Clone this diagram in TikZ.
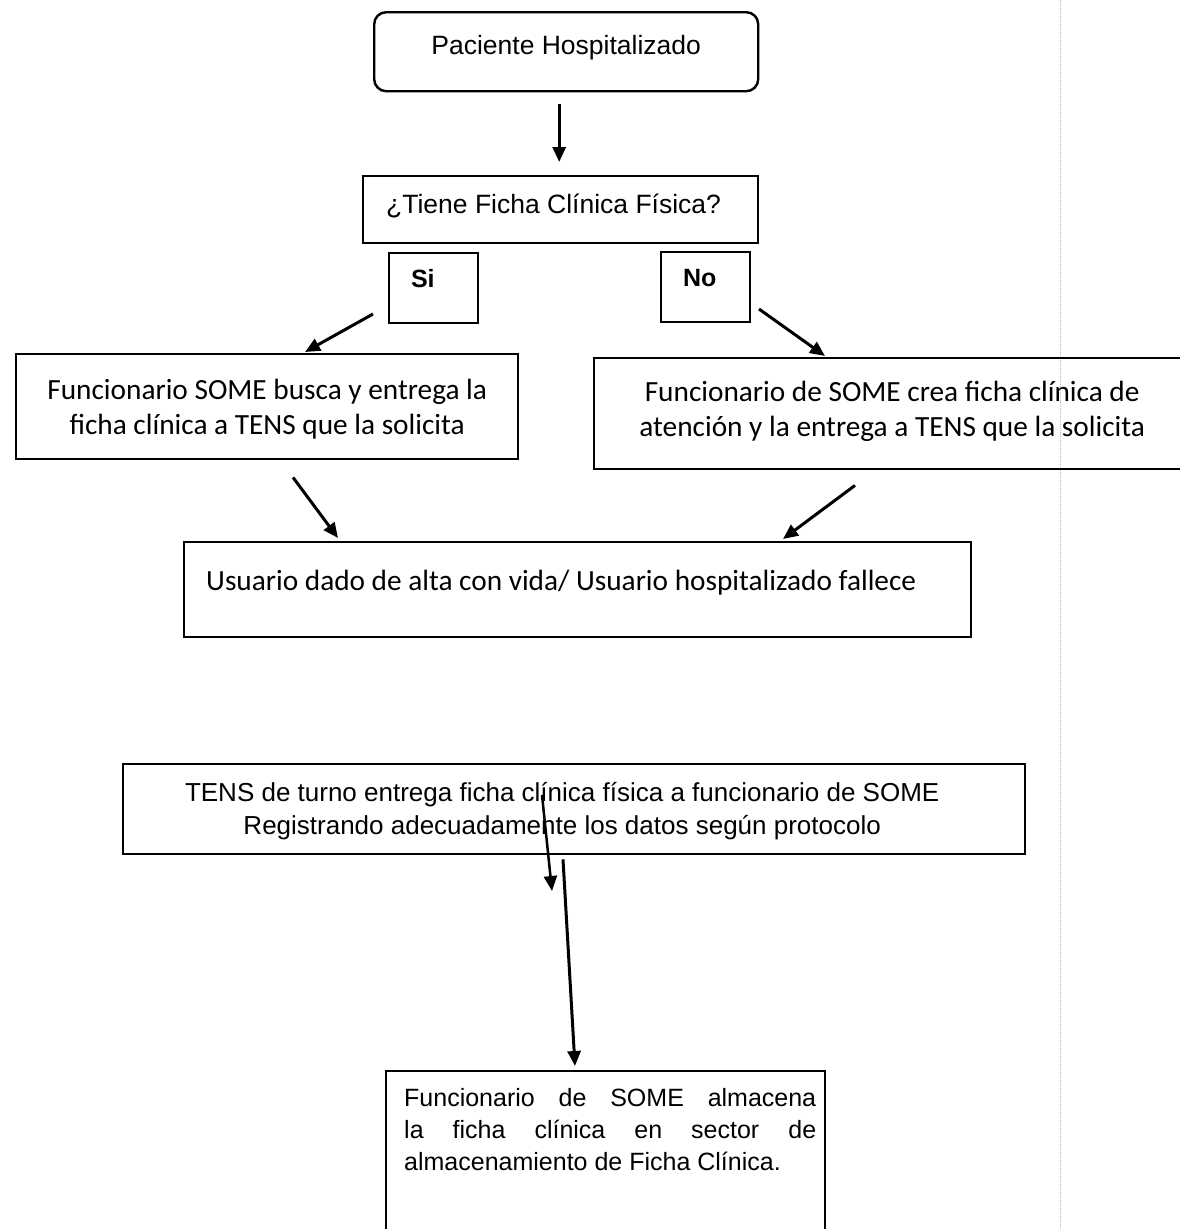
\documentclass[tikz,border=0pt]{standalone}
\usepackage{fontspec}
\newfontfamily\arialf{Liberation Sans}
\newfontfamily\calf{Carlito}
\usetikzlibrary{arrows.meta,calc}
\newcommand\bxt[5]{\parbox[c][#2][t]{#1}{\vspace*{#3}#4#5\par}}
\tikzset{
  box/.style={draw, line width=2.4pt, inner sep=0pt, anchor=north west},
  arr/.style={line width=3pt, -{Triangle[length=15pt,width=13pt]}},
  arialtxt/.style={font=\arialf\fontsize{26.5}{31}\selectfont},
  arialbold/.style={font=\arialf\bfseries\fontsize{25}{30}\selectfont},
  calitxt/.style={font=\calf\fontsize{29.3}{35}\selectfont},
  tenstxt/.style={font=\arialf\fontsize{26}{33}\selectfont},
  lasttxt/.style={font=\arialf\fontsize{25}{32}\selectfont}
}
\begin{document}
\begin{tikzpicture}[x=1pt,y=-1pt]
\useasboundingbox (0,0) rectangle (1180,1229);
\fill[white] (0,0) rectangle (1180,1229);
\clip (0,0) rectangle (1180,1229);
% faint scan line
\draw[gray!55, line width=1pt, densely dotted] (1060,0) -- (1060,1229);

\node[box, rounded corners=12pt, arialtxt] (pac) at (373,11)
  {\bxt{384pt}{79pt}{23.5pt}{\centering}{Paciente Hospitalizado}};
\node[box, arialtxt] (q) at (362,175)
  {\bxt{395pt}{67pt}{18pt}{\raggedright\leftskip=23pt\relax}{¿Tiene Ficha Clínica Física?}};
\node[box, line width=2pt, arialbold] (si) at (388,252)
  {\bxt{89pt}{70pt}{16pt}{\raggedright\leftskip=22pt\relax}{Si}};
\node[box, line width=2pt, arialbold] (no) at (660,251)
  {\bxt{89pt}{70pt}{17pt}{\raggedright\leftskip=22pt\relax}{No}};
\node[box, calitxt] (L) at (15,353)
  {\bxt{502pt}{105pt}{25pt}{\centering}{Funcionario SOME busca y entrega la\\ficha clínica a TENS que la solicita}};
\node[box, calitxt] (R) at (593,357)
  {\bxt{596pt}{111pt}{23pt}{\centering}{Funcionario de SOME crea ficha clínica de\\atención y la entrega a TENS que la solicita}};
\node[box, calitxt] (U) at (183,541)
  {\bxt{787pt}{95pt}{28pt}{\raggedright\leftskip=22pt\relax}{Usuario dado de alta con vida/ Usuario hospitalizado fallece}};
\node[box, tenstxt] (T) at (122,763)
  {\bxt{902pt}{90pt}{18pt}{\centering\rightskip=24pt plus 1fil\relax}{TENS de turno entrega ficha clínica física a funcionario de SOME\\Registrando adecuadamente los datos según protocolo}};
\node[box, lasttxt] (B) at (385,1070)
  {\bxt{439pt}{172pt}{17pt}{\leftskip=18pt\rightskip=9pt\relax}{Funcionario de SOME almacena\linebreak la ficha clínica en sector de\linebreak almacenamiento de Ficha Clínica.}};

\coordinate (stray) at (552,891);

\draw[arr, shorten <=12pt, shorten >=13pt] ([xshift=-7pt]pac.south) -- ([xshift=-1.5pt]q.north);
\draw[arr] ($(si.south west)+(-15,-10)$) -- ($(L.north west)+(290,-1)$);
\draw[arr] ($(no.south east)+(8,-14)$) -- ($(R.north west)+(232,-1)$);
\draw[arr] ($(L.south west)+(278,17)$) -- ($(U.north west)+(155,-3)$);
\draw[arr] ($(R.south west)+(262,15)$) -- ($(U.north west)+(600,-2)$);
\draw[arr, line width=2.5pt] ($(T.north west)+(420,32)$) -- (stray);
\draw[arr] ($(T.south west)+(441,4)$) -- ($(B.north west)+(190,-4)$);
\end{tikzpicture}
\end{document}
